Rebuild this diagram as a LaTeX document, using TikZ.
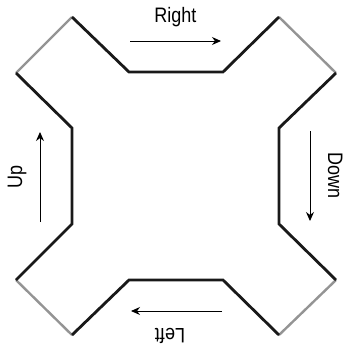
\documentclass[tikz,border=0pt]{standalone}
\usepackage{fontspec}
\setmainfont{Liberation Sans}[FakeStretch=0.86]
\usetikzlibrary{arrows.meta}
\begin{document}
\begin{tikzpicture}[x=1bp,y=-1bp,
  edge/.style={line width=2.8bp,draw=black!90,line join=miter},
  graycap/.style={line width=2.4bp,draw=black!42},
  dirarrow/.style={line width=1bp,-{Stealth[length=9bp,width=8bp]}},
  lbl/.style={font=\fontsize{21}{24}\selectfont,inner sep=0pt,anchor=base}]
\useasboundingbox (0,0) rectangle (346,347);
% vertices
\coordinate (t1) at (72,17);   \coordinate (t2) at (129,72);
\coordinate (t3) at (223,72);  \coordinate (t4) at (279,17);
\coordinate (r1) at (336,73);  \coordinate (r2) at (279,128);
\coordinate (r3) at (279,224); \coordinate (r4) at (336,280);
\coordinate (b1) at (279,335); \coordinate (b2) at (223,280);
\coordinate (b3) at (129,280); \coordinate (b4) at (72,335);
\coordinate (l1) at (16,280);  \coordinate (l2) at (72,224);
\coordinate (l3) at (72,128);  \coordinate (l4) at (16,73);
% gray corner caps
\draw[graycap] (t4) -- (r1);
\draw[graycap] (r4) -- (b1);
\draw[graycap] (b4) -- (l1);
\draw[graycap] (l4) -- (t1);
% black sides
\draw[edge] (t1) -- (t2) -- (t3) -- (t4);
\draw[edge] (r1) -- (r2) -- (r3) -- (r4);
\draw[edge] (b1) -- (b2) -- (b3) -- (b4);
\draw[edge] (l1) -- (l2) -- (l3) -- (l4);
% arrows
\coordinate (ra) at (130,41); \coordinate (rb) at (221,41);
\coordinate (da) at (310,131); \coordinate (db) at (310,221);
\coordinate (la) at (222,311); \coordinate (lb) at (131,311);
\coordinate (ua) at (40,222); \coordinate (ub) at (40,132);
\draw[dirarrow] (ra) -- (rb);
\draw[dirarrow] (da) -- (db);
\draw[dirarrow] (la) -- (lb);
\draw[dirarrow] (ua) -- (ub);
% labels
\node[lbl] (right) at (175.5,22.5) {Right};
\node[lbl,rotate=-90] (down) at (328,175.5) {Down};
\node[lbl,rotate=180] (left) at (170,328) {Left};
\node[lbl,rotate=90] (up) at (22,177) {Up};
\end{tikzpicture}
\end{document}
